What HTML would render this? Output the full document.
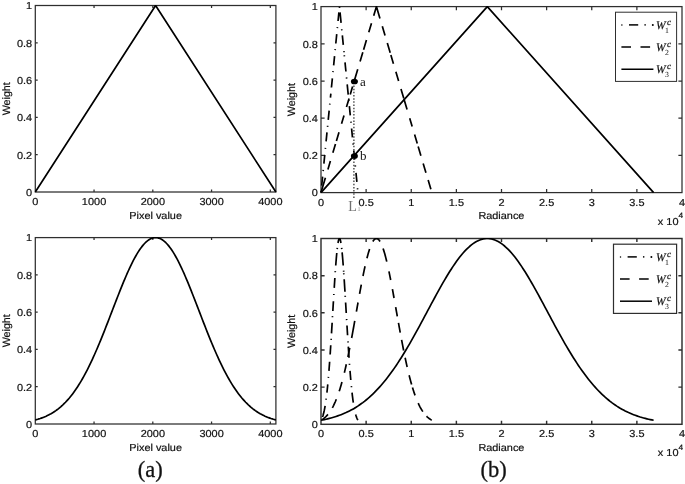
<!DOCTYPE html>
<html><head><meta charset="utf-8"><title>Weight functions</title>
<style>html,body{margin:0;padding:0;background:#fff}svg{display:block}</style></head>
<body>
<svg width="685" height="484" viewBox="0 0 685 484">
<style>
.t{font-family:"Liberation Sans",sans-serif;fill:#111;stroke:#111;stroke-width:.2px}
.s{font-family:"Liberation Serif",serif;fill:#111}
.c{fill:none;stroke:#000;stroke-width:1.7;stroke-linejoin:round}
</style>
<rect width="685" height="484" fill="#fff"/>
<filter id="soft" x="0" y="0" width="100%" height="100%" filterUnits="userSpaceOnUse" color-interpolation-filters="sRGB"><feGaussianBlur stdDeviation="0.35"/></filter>
<g filter="url(#soft)">
<rect width="685" height="484" fill="#fff"/>
<clipPath id="cTL"><rect x="34.3" y="5" width="242.6" height="187.7"/></clipPath>
<clipPath id="cTR"><rect x="320" y="6.1" width="363" height="187.2"/></clipPath>
<clipPath id="cBL"><rect x="34.3" y="237.1" width="242.6" height="187.6"/></clipPath>
<clipPath id="cBR"><rect x="320" y="238" width="363" height="187"/></clipPath>
<path d="M94.05 192v-2.41M94.05 5.5v2.41M152.81 192v-2.41M152.81 5.5v2.41M211.56 192v-2.41M211.56 5.5v2.41M270.32 192v-2.41M270.32 5.5v2.41M35.3 154.7h2.41M275.9 154.7h-2.41M35.3 117.4h2.41M275.9 117.4h-2.41M35.3 80.1h2.41M275.9 80.1h-2.41M35.3 42.8h2.41M275.9 42.8h-2.41" stroke="#2e2e2e" stroke-width="1.25" fill="none"/>
<rect x="35.3" y="5.5" width="240.6" height="186.5" fill="none" stroke="#2e2e2e" stroke-width="1.25"/>
<text transform="translate(35.3 205.1) skewX(.05) scale(1.075 1)" text-anchor="middle" class="t" font-size="10.2">0</text>
<text transform="translate(94.05 205.1) skewX(.05) scale(1.075 1)" text-anchor="middle" class="t" font-size="10.2">1000</text>
<text transform="translate(152.81 205.1) skewX(.05) scale(1.075 1)" text-anchor="middle" class="t" font-size="10.2">2000</text>
<text transform="translate(211.56 205.1) skewX(.05) scale(1.075 1)" text-anchor="middle" class="t" font-size="10.2">3000</text>
<text transform="translate(270.32 205.1) skewX(.05) scale(1.075 1)" text-anchor="middle" class="t" font-size="10.2">4000</text>
<text transform="translate(32.2 195.8) skewX(.05) scale(1.075 1)" text-anchor="end" class="t" font-size="10.2">0</text>
<text transform="translate(32.2 158.5) skewX(.05) scale(1.075 1)" text-anchor="end" class="t" font-size="10.2">0.2</text>
<text transform="translate(32.2 121.2) skewX(.05) scale(1.075 1)" text-anchor="end" class="t" font-size="10.2">0.4</text>
<text transform="translate(32.2 83.9) skewX(.05) scale(1.075 1)" text-anchor="end" class="t" font-size="10.2">0.6</text>
<text transform="translate(32.2 46.6) skewX(.05) scale(1.075 1)" text-anchor="end" class="t" font-size="10.2">0.8</text>
<text transform="translate(32.2 9.3) skewX(.05) scale(1.075 1)" text-anchor="end" class="t" font-size="10.2">1</text>
<text transform="translate(10 98.75) rotate(-90) skewX(.05)" text-anchor="middle" class="t" font-size="10.7">Weight</text>
<text transform="translate(155.6 218.6) skewX(.05) scale(1.07 1)" text-anchor="middle" class="t" font-size="10.2">Pixel value</text>
<path class="c" clip-path="url(#cTL)" d="M35.3 192L155.6 5.5L275.9 192"/>
<path d="M94.05 424v-2.41M94.05 237.6v2.41M152.81 424v-2.41M152.81 237.6v2.41M211.56 424v-2.41M211.56 237.6v2.41M270.32 424v-2.41M270.32 237.6v2.41M35.3 386.72h2.41M275.9 386.72h-2.41M35.3 349.44h2.41M275.9 349.44h-2.41M35.3 312.16h2.41M275.9 312.16h-2.41M35.3 274.88h2.41M275.9 274.88h-2.41" stroke="#2e2e2e" stroke-width="1.25" fill="none"/>
<rect x="35.3" y="237.6" width="240.6" height="186.4" fill="none" stroke="#2e2e2e" stroke-width="1.25"/>
<text transform="translate(35.3 437.1) skewX(.05) scale(1.075 1)" text-anchor="middle" class="t" font-size="10.2">0</text>
<text transform="translate(94.05 437.1) skewX(.05) scale(1.075 1)" text-anchor="middle" class="t" font-size="10.2">1000</text>
<text transform="translate(152.81 437.1) skewX(.05) scale(1.075 1)" text-anchor="middle" class="t" font-size="10.2">2000</text>
<text transform="translate(211.56 437.1) skewX(.05) scale(1.075 1)" text-anchor="middle" class="t" font-size="10.2">3000</text>
<text transform="translate(270.32 437.1) skewX(.05) scale(1.075 1)" text-anchor="middle" class="t" font-size="10.2">4000</text>
<text transform="translate(32.2 427.8) skewX(.05) scale(1.075 1)" text-anchor="end" class="t" font-size="10.2">0</text>
<text transform="translate(32.2 390.52) skewX(.05) scale(1.075 1)" text-anchor="end" class="t" font-size="10.2">0.2</text>
<text transform="translate(32.2 353.24) skewX(.05) scale(1.075 1)" text-anchor="end" class="t" font-size="10.2">0.4</text>
<text transform="translate(32.2 315.96) skewX(.05) scale(1.075 1)" text-anchor="end" class="t" font-size="10.2">0.6</text>
<text transform="translate(32.2 278.68) skewX(.05) scale(1.075 1)" text-anchor="end" class="t" font-size="10.2">0.8</text>
<text transform="translate(32.2 241.4) skewX(.05) scale(1.075 1)" text-anchor="end" class="t" font-size="10.2">1</text>
<text transform="translate(10 330.8) rotate(-90) skewX(.05)" text-anchor="middle" class="t" font-size="10.7">Weight</text>
<text transform="translate(155.6 450.6) skewX(.05) scale(1.07 1)" text-anchor="middle" class="t" font-size="10.2">Pixel value</text>
<path class="c" clip-path="url(#cBL)" d="M35.3 419.95L36.51 419.63L37.72 419.29L38.93 418.92L40.14 418.53L41.35 418.11L42.55 417.67L43.76 417.19L44.97 416.69L46.18 416.16L47.39 415.59L48.6 414.99L49.81 414.36L51.02 413.69L52.23 412.98L53.44 412.23L54.64 411.44L55.85 410.61L57.06 409.73L58.27 408.81L59.48 407.83L60.69 406.82L61.9 405.75L63.11 404.63L64.32 403.45L65.53 402.23L66.74 400.94L67.94 399.6L69.15 398.21L70.36 396.75L71.57 395.23L72.78 393.65L73.99 392.01L75.2 390.31L76.41 388.55L77.62 386.72L78.83 384.83L80.03 382.87L81.24 380.85L82.45 378.76L83.66 376.61L84.87 374.4L86.08 372.12L87.29 369.79L88.5 367.39L89.71 364.92L90.92 362.4L92.13 359.82L93.33 357.19L94.54 354.5L95.75 351.76L96.96 348.97L98.17 346.13L99.38 343.25L100.59 340.32L101.8 337.36L103.01 334.35L104.22 331.32L105.42 328.26L106.63 325.18L107.84 322.07L109.05 318.95L110.26 315.81L111.47 312.67L112.68 309.53L113.89 306.38L115.1 303.25L116.31 300.12L117.52 297.02L118.72 293.94L119.93 290.88L121.14 287.86L122.35 284.88L123.56 281.94L124.77 279.06L125.98 276.23L127.19 273.46L128.4 270.75L129.61 268.12L130.81 265.57L132.02 263.1L133.23 260.72L134.44 258.43L135.65 256.23L136.86 254.14L138.07 252.16L139.28 250.29L140.49 248.53L141.7 246.9L142.91 245.38L144.11 244L145.32 242.74L146.53 241.61L147.74 240.62L148.95 239.77L150.16 239.05L151.37 238.48L152.58 238.05L153.79 237.76L155 237.62L156.2 237.62L157.41 237.76L158.62 238.05L159.83 238.48L161.04 239.05L162.25 239.77L163.46 240.62L164.67 241.61L165.88 242.74L167.09 244L168.29 245.38L169.5 246.9L170.71 248.53L171.92 250.29L173.13 252.16L174.34 254.14L175.55 256.23L176.76 258.43L177.97 260.72L179.18 263.1L180.39 265.57L181.59 268.12L182.8 270.75L184.01 273.46L185.22 276.23L186.43 279.06L187.64 281.94L188.85 284.88L190.06 287.86L191.27 290.88L192.48 293.94L193.68 297.02L194.89 300.12L196.1 303.25L197.31 306.38L198.52 309.53L199.73 312.67L200.94 315.81L202.15 318.95L203.36 322.07L204.57 325.18L205.78 328.26L206.98 331.32L208.19 334.35L209.4 337.36L210.61 340.32L211.82 343.25L213.03 346.13L214.24 348.97L215.45 351.76L216.66 354.5L217.87 357.19L219.07 359.82L220.28 362.4L221.49 364.92L222.7 367.39L223.91 369.79L225.12 372.12L226.33 374.4L227.54 376.61L228.75 378.76L229.96 380.85L231.17 382.87L232.37 384.83L233.58 386.72L234.79 388.55L236 390.31L237.21 392.01L238.42 393.65L239.63 395.23L240.84 396.75L242.05 398.21L243.26 399.6L244.46 400.94L245.67 402.23L246.88 403.45L248.09 404.63L249.3 405.75L250.51 406.82L251.72 407.83L252.93 408.81L254.14 409.73L255.35 410.61L256.56 411.44L257.76 412.23L258.97 412.98L260.18 413.69L261.39 414.36L262.6 414.99L263.81 415.59L265.02 416.16L266.23 416.69L267.44 417.19L268.65 417.67L269.85 418.11L271.06 418.53L272.27 418.92L273.48 419.29L274.69 419.63L275.9 419.95"/>
<path d="M366.12 192.6v-3.61M366.12 6.6v3.61M411.25 192.6v-3.61M411.25 6.6v3.61M456.38 192.6v-3.61M456.38 6.6v3.61M501.5 192.6v-3.61M501.5 6.6v3.61M546.62 192.6v-3.61M546.62 6.6v3.61M591.75 192.6v-3.61M591.75 6.6v3.61M636.88 192.6v-3.61M636.88 6.6v3.61M321 155.4h3.61M682 155.4h-3.61M321 118.2h3.61M682 118.2h-3.61M321 81h3.61M682 81h-3.61M321 43.8h3.61M682 43.8h-3.61" stroke="#2e2e2e" stroke-width="1.25" fill="none"/>
<rect x="321" y="6.6" width="361" height="186" fill="none" stroke="#2e2e2e" stroke-width="1.25"/>
<text transform="translate(321 205.7) skewX(.05) scale(1.075 1)" text-anchor="middle" class="t" font-size="10.2">0</text>
<text transform="translate(366.12 205.7) skewX(.05) scale(1.075 1)" text-anchor="middle" class="t" font-size="10.2">0.5</text>
<text transform="translate(411.25 205.7) skewX(.05) scale(1.075 1)" text-anchor="middle" class="t" font-size="10.2">1</text>
<text transform="translate(456.38 205.7) skewX(.05) scale(1.075 1)" text-anchor="middle" class="t" font-size="10.2">1.5</text>
<text transform="translate(501.5 205.7) skewX(.05) scale(1.075 1)" text-anchor="middle" class="t" font-size="10.2">2</text>
<text transform="translate(546.62 205.7) skewX(.05) scale(1.075 1)" text-anchor="middle" class="t" font-size="10.2">2.5</text>
<text transform="translate(591.75 205.7) skewX(.05) scale(1.075 1)" text-anchor="middle" class="t" font-size="10.2">3</text>
<text transform="translate(636.88 205.7) skewX(.05) scale(1.075 1)" text-anchor="middle" class="t" font-size="10.2">3.5</text>
<text transform="translate(682 205.7) skewX(.05) scale(1.075 1)" text-anchor="middle" class="t" font-size="10.2">4</text>
<text transform="translate(317.9 196.4) skewX(.05) scale(1.075 1)" text-anchor="end" class="t" font-size="10.2">0</text>
<text transform="translate(317.9 159.2) skewX(.05) scale(1.075 1)" text-anchor="end" class="t" font-size="10.2">0.2</text>
<text transform="translate(317.9 122) skewX(.05) scale(1.075 1)" text-anchor="end" class="t" font-size="10.2">0.4</text>
<text transform="translate(317.9 84.8) skewX(.05) scale(1.075 1)" text-anchor="end" class="t" font-size="10.2">0.6</text>
<text transform="translate(317.9 47.6) skewX(.05) scale(1.075 1)" text-anchor="end" class="t" font-size="10.2">0.8</text>
<text transform="translate(317.9 10.4) skewX(.05) scale(1.075 1)" text-anchor="end" class="t" font-size="10.2">1</text>
<text transform="translate(295.2 99.6) rotate(-90) skewX(.05)" text-anchor="middle" class="t" font-size="10.7">Weight</text>
<text transform="translate(501.4 219.2) skewX(.05) scale(1.07 1)" text-anchor="middle" class="t" font-size="10.2">Radiance</text>
<path class="c" clip-path="url(#cTR)" d="M338.05 21L338.91 12.3M335.81 43.5L336.74 34.2M333.65 65.3L334.56 56.1M331.44 87.5L332.36 78.3M330.44 97.6L330.84 93.6M328.23 119.8L329.15 110.6M326.09 141.4L326.98 132.4M323.87 163.7L324.76 154.8M321.7 185.6L322.59 176.6M337.45 27.05L337.34 28.15M335.26 49.05L335.15 50.15M333.08 71.05L332.97 72.15M329.85 103.55L329.74 104.65M327.64 125.75L327.53 126.85M325.45 147.85L325.34 148.95M323.25 169.95L323.14 171.05M321.13 191.25L321.02 192.35M340.04 12.3L341.09 22.8M342.34 35.4L343.28 44.9M345.01 62.3L345.93 71.5M347.2 84.3L348.22 94.6M349.37 106.2L350.29 115.4M351.59 128.5L352.46 137.3M353.77 150.5L354.68 159.6M355.99 172.8L356.88 181.8M339.49 6.75L339.6 7.85M341.73 29.25L341.84 30.35M343.9 51.15L344.01 52.25M344.31 55.25L344.42 56.35M346.52 77.45L346.63 78.55M348.74 99.85L348.85 100.95M350.91 121.65L351.02 122.75M353.07 143.45L353.18 144.55M355.26 165.45L355.37 166.55M357.53 188.25L357.63 189.35"/>
<path class="c" clip-path="url(#cTR)" d="M373.69 15.8L376.53 6.3M368.78 32.3L371.49 23.2M363.59 49.7L366.45 40.1M360.07 61.5L362.82 52.3M354.62 79.8L357.75 69.3M350.24 94.5L352.59 86.6M346.48 107.1L349.08 98.4M341.54 123.7L344.01 115.4M336.41 140.9L339 132.2M332.86 152.8L335.48 144M327.91 169.4L330.39 161.1M321 192.6L325.41 177.8M376.35 6.3L379.95 18.4M382.31 26.3L385.05 35.5M387.31 43.1L390.21 52.8M390.86 55L393.45 63.7M395.87 71.8L398.61 81M400.97 88.9L403.83 98.5M403.95 98.9L407.07 109.4M409.7 118.2L412.17 126.5M414.59 134.6L417.27 143.6M418.16 146.6L420.9 155.8M423.17 163.4L425.94 172.7M428.15 180.1L430.89 189.3"/>
<path class="c" clip-path="url(#cTR)" d="M321 192.6L487.31 6.6L653.62 192.6"/>
<path d="M366.12 424.3v-3.61M366.12 238.5v3.61M411.25 424.3v-3.61M411.25 238.5v3.61M456.38 424.3v-3.61M456.38 238.5v3.61M501.5 424.3v-3.61M501.5 238.5v3.61M546.62 424.3v-3.61M546.62 238.5v3.61M591.75 424.3v-3.61M591.75 238.5v3.61M636.88 424.3v-3.61M636.88 238.5v3.61M321 387.14h3.61M682 387.14h-3.61M321 349.98h3.61M682 349.98h-3.61M321 312.82h3.61M682 312.82h-3.61M321 275.66h3.61M682 275.66h-3.61" stroke="#2e2e2e" stroke-width="1.45" fill="none"/>
<rect x="321" y="238.5" width="361" height="185.8" fill="none" stroke="#2e2e2e" stroke-width="1.45"/>
<text transform="translate(321 437.4) skewX(.05) scale(1.075 1)" text-anchor="middle" class="t" font-size="10.2">0</text>
<text transform="translate(366.12 437.4) skewX(.05) scale(1.075 1)" text-anchor="middle" class="t" font-size="10.2">0.5</text>
<text transform="translate(411.25 437.4) skewX(.05) scale(1.075 1)" text-anchor="middle" class="t" font-size="10.2">1</text>
<text transform="translate(456.38 437.4) skewX(.05) scale(1.075 1)" text-anchor="middle" class="t" font-size="10.2">1.5</text>
<text transform="translate(501.5 437.4) skewX(.05) scale(1.075 1)" text-anchor="middle" class="t" font-size="10.2">2</text>
<text transform="translate(546.62 437.4) skewX(.05) scale(1.075 1)" text-anchor="middle" class="t" font-size="10.2">2.5</text>
<text transform="translate(591.75 437.4) skewX(.05) scale(1.075 1)" text-anchor="middle" class="t" font-size="10.2">3</text>
<text transform="translate(636.88 437.4) skewX(.05) scale(1.075 1)" text-anchor="middle" class="t" font-size="10.2">3.5</text>
<text transform="translate(682 437.4) skewX(.05) scale(1.075 1)" text-anchor="middle" class="t" font-size="10.2">4</text>
<text transform="translate(317.9 428.1) skewX(.05) scale(1.075 1)" text-anchor="end" class="t" font-size="10.2">0</text>
<text transform="translate(317.9 390.94) skewX(.05) scale(1.075 1)" text-anchor="end" class="t" font-size="10.2">0.2</text>
<text transform="translate(317.9 353.78) skewX(.05) scale(1.075 1)" text-anchor="end" class="t" font-size="10.2">0.4</text>
<text transform="translate(317.9 316.62) skewX(.05) scale(1.075 1)" text-anchor="end" class="t" font-size="10.2">0.6</text>
<text transform="translate(317.9 279.46) skewX(.05) scale(1.075 1)" text-anchor="end" class="t" font-size="10.2">0.8</text>
<text transform="translate(317.9 242.3) skewX(.05) scale(1.075 1)" text-anchor="end" class="t" font-size="10.2">1</text>
<text transform="translate(295.2 331.4) rotate(-90) skewX(.05)" text-anchor="middle" class="t" font-size="10.7">Weight</text>
<text transform="translate(501.4 450.9) skewX(.05) scale(1.07 1)" text-anchor="middle" class="t" font-size="10.2">Radiance</text>
<path class="c" clip-path="url(#cBR)" d="M338 243L338.21 241.82L338.42 240.81L338.63 239.98L338.85 239.33L339.06 238.87L339.27 238.59L339.48 238.5L339.69 238.59L339.9 238.87L340.11 239.33L340.32 239.98L340.53 240.81L340.75 241.82L340.96 243M336.79 253L336.62 254.79L336.46 256.57L336.3 258.36L336.16 260.14L336.01 261.93L335.87 263.71L335.74 265.5M334.86 278L334.77 279.41L334.68 280.83L334.59 282.24L334.5 283.66L334.41 285.07L334.32 286.49L334.23 287.9M333.42 301.2L333.34 302.6L333.25 304L333.17 305.4L333.09 306.8L333 308.2L332.92 309.6L332.84 311M332.14 322.8L332.05 324.31L331.96 325.83L331.86 327.34L331.77 328.86L331.68 330.37L331.59 331.89L331.5 333.4M330.75 345.2L330.67 346.53L330.58 347.86L330.49 349.19L330.4 350.51L330.32 351.84L330.23 353.17L330.14 354.5M329.63 361.7L329.53 363.01L329.44 364.33L329.34 365.64L329.24 366.96L329.14 368.27L329.04 369.59L328.94 370.9M327.77 384.4L327.65 385.59L327.54 386.77L327.42 387.96L327.3 389.14L327.17 390.33L327.04 391.51L326.91 392.7M325.12 405.9L324.84 407.49L324.54 409.07L324.22 410.66L323.86 412.24L323.47 413.83L323.02 415.41L322.49 417M337.32 247.95L337.2 249.05M335.33 271.15L335.25 272.25M333.86 293.95L333.79 295.05M332.53 316.15L332.47 317.25M331.16 338.75L331.09 339.85M328.45 376.85L328.35 377.95M326.19 398.65L326.05 399.75M342.11 252.4L342.29 254.27L342.46 256.14L342.62 258.01L342.78 259.89L342.93 261.76L343.08 263.63L343.22 265.5M344.18 279.3L344.3 281.09L344.41 282.87L344.52 284.66L344.64 286.44L344.75 288.23L344.86 290.01L344.97 291.8M345.61 302.5L345.7 304L345.79 305.5L345.88 307L345.97 308.5L346.06 310L346.15 311.5L346.24 313M346.98 325.5L347.07 326.9L347.15 328.3L347.24 329.7L347.32 331.1L347.41 332.5L347.49 333.9L347.58 335.3M348.29 346.6L348.4 348.19L348.5 349.77L348.61 351.36L348.72 352.94L348.82 354.53L348.93 356.11L349.04 357.7M350.02 370.9L350.13 372.2L350.23 373.5L350.34 374.8L350.45 376.1L350.56 377.4L350.67 378.7L350.78 380M352.05 392.7L352.21 394.11L352.37 395.53L352.55 396.94L352.73 398.36L352.91 399.77L353.11 401.19L353.32 402.6M355.65 414.4L355.89 415.23L356.14 416.06L356.43 416.89L356.73 417.71L357.08 418.54L357.47 419.37L357.92 420.2M341.64 247.95L341.76 249.05M343.59 270.65L343.67 271.75M343.78 273.25L343.85 274.35M345.21 295.75L345.28 296.85M346.6 319.05L346.66 320.15M347.96 341.35L348.03 342.45M349.48 363.75L349.56 364.85M351.36 386.15L351.47 387.25M354.2 407.95L354.41 409.05"/>
<path class="c" clip-path="url(#cBR)" d="M372.82 241.5L373.34 240.71L373.85 240.04L374.37 239.48L374.89 239.05L375.4 238.75L375.92 238.56L376.44 238.5L376.95 238.56L377.47 238.75L377.98 239.05L378.5 239.48L379.02 240.04L379.53 240.71L380.05 241.5M369.57 249.1L369.14 250.41L368.74 251.73L368.35 253.04L367.98 254.36L367.62 255.67L367.27 256.99L366.93 258.3M365.05 266.2L364.75 267.6L364.44 269L364.14 270.4L363.85 271.8L363.56 273.2L363.27 274.6L362.99 276M361.31 284.6L361.06 285.91L360.81 287.23L360.57 288.54L360.32 289.86L360.08 291.17L359.84 292.49L359.6 293.8M358.03 302.5L357.79 303.81L357.56 305.13L357.32 306.44L357.09 307.76L356.86 309.07L356.62 310.39L356.39 311.7M354.75 320.9L354.31 323.34L353.87 325.79L353.43 328.23L352.99 330.67L352.54 333.11L352.09 335.56L351.63 338M349.75 347.8L349.49 349.11L349.23 350.43L348.97 351.74L348.7 353.06L348.43 354.37L348.16 355.69L347.89 357M346.32 364.3L346.05 365.51L345.77 366.73L345.5 367.94L345.22 369.16L344.93 370.37L344.64 371.59L344.35 372.8M341.98 382L341.61 383.33L341.23 384.66L340.84 385.99L340.45 387.31L340.04 388.64L339.63 389.97L339.2 391.3M336.32 399.3L335.82 400.51L335.31 401.73L334.77 402.94L334.21 404.16L333.63 405.37L333.01 406.59L332.36 407.8M327.93 414.4L327.29 415.14L326.6 415.89L325.87 416.63L325.06 417.37L324.19 418.11L323.21 418.86L322.12 419.6M383.1 248.5L383.71 250.37L384.29 252.24L384.83 254.11L385.34 255.99L385.83 257.86L386.3 259.73L386.76 261.6M388.94 271.4L389.2 272.63L389.45 273.86L389.7 275.09L389.95 276.31L390.19 277.54L390.44 278.77L390.68 280M392.43 289.2L392.66 290.46L392.89 291.71L393.12 292.97L393.35 294.23L393.58 295.49L393.81 296.74L394.04 298M395.66 307.1L395.9 308.41L396.13 309.73L396.37 311.04L396.6 312.36L396.83 313.67L397.07 314.99L397.3 316.3M398.46 322.8L398.72 324.21L398.97 325.63L399.23 327.04L399.48 328.46L399.74 329.87L400 331.29L400.26 332.7M401.6 339.9L401.89 341.41L402.17 342.93L402.47 344.44L402.76 345.96L403.06 347.47L403.35 348.99L403.65 350.5M405.13 357.7L405.41 359.03L405.69 360.36L405.98 361.69L406.27 363.01L406.56 364.34L406.86 365.67L407.16 367M409.14 375.3L409.47 376.63L409.82 377.96L410.16 379.29L410.52 380.61L410.88 381.94L411.25 383.27L411.63 384.6M412.45 387.4L412.8 388.54L413.16 389.69L413.52 390.83L413.89 391.97L414.28 393.11L414.67 394.26L415.08 395.4M418.22 403.2L418.77 404.4L419.36 405.6L419.97 406.8L420.62 408L421.31 409.2L422.05 410.4L422.84 411.6M426.57 416.2L427.16 416.77L427.78 417.34L428.44 417.91L429.16 418.49L429.94 419.06L430.8 419.63L431.75 420.2"/>
<path class="c" clip-path="url(#cBR)" d="M321 420.27L322.67 419.95L324.34 419.6L326.01 419.24L327.69 418.85L329.36 418.43L331.03 417.99L332.7 417.52L334.37 417.02L336.04 416.48L337.71 415.92L339.39 415.32L341.06 414.69L342.73 414.02L344.4 413.31L346.07 412.57L347.74 411.78L349.41 410.95L351.09 410.07L352.76 409.15L354.43 408.19L356.1 407.17L357.77 406.11L359.44 404.99L361.11 403.82L362.79 402.6L364.46 401.32L366.13 399.98L367.8 398.59L369.47 397.14L371.14 395.62L372.81 394.05L374.49 392.42L376.16 390.72L377.83 388.96L379.5 387.14L381.17 385.25L382.84 383.3L384.51 381.29L386.19 379.21L387.86 377.07L389.53 374.86L391.2 372.59L392.87 370.26L394.54 367.87L396.21 365.41L397.89 362.9L399.56 360.33L401.23 357.71L402.9 355.03L404.57 352.29L406.24 349.51L407.91 346.68L409.59 343.81L411.26 340.89L412.93 337.93L414.6 334.94L416.27 331.92L417.94 328.87L419.61 325.79L421.29 322.7L422.96 319.58L424.63 316.46L426.3 313.33L427.97 310.19L429.64 307.06L431.31 303.94L432.99 300.82L434.66 297.73L436.33 294.66L438 291.61L439.67 288.6L441.34 285.63L443.02 282.7L444.69 279.82L446.36 277L448.03 274.24L449.7 271.55L451.37 268.92L453.04 266.38L454.72 263.92L456.39 261.54L458.06 259.26L459.73 257.07L461.4 254.99L463.07 253.01L464.74 251.15L466.42 249.4L468.09 247.77L469.76 246.26L471.43 244.88L473.1 243.62L474.77 242.5L476.44 241.51L478.12 240.66L479.79 239.95L481.46 239.38L483.13 238.95L484.8 238.66L486.47 238.52L488.14 238.52L489.82 238.66L491.49 238.95L493.16 239.38L494.83 239.95L496.5 240.66L498.17 241.51L499.84 242.5L501.52 243.62L503.19 244.88L504.86 246.26L506.53 247.77L508.2 249.4L509.87 251.15L511.54 253.01L513.22 254.99L514.89 257.07L516.56 259.26L518.23 261.54L519.9 263.92L521.57 266.38L523.24 268.92L524.92 271.55L526.59 274.24L528.26 277L529.93 279.82L531.6 282.7L533.27 285.63L534.94 288.6L536.62 291.61L538.29 294.66L539.96 297.73L541.63 300.82L543.3 303.94L544.97 307.06L546.64 310.19L548.32 313.33L549.99 316.46L551.66 319.58L553.33 322.7L555 325.79L556.67 328.87L558.34 331.92L560.02 334.94L561.69 337.93L563.36 340.89L565.03 343.81L566.7 346.68L568.37 349.51L570.04 352.29L571.72 355.03L573.39 357.71L575.06 360.33L576.73 362.9L578.4 365.41L580.07 367.87L581.74 370.26L583.42 372.59L585.09 374.86L586.76 377.07L588.43 379.21L590.1 381.29L591.77 383.3L593.44 385.25L595.12 387.14L596.79 388.96L598.46 390.72L600.13 392.42L601.8 394.05L603.47 395.62L605.14 397.14L606.82 398.59L608.49 399.98L610.16 401.32L611.83 402.6L613.5 403.82L615.17 404.99L616.84 406.11L618.52 407.17L620.19 408.19L621.86 409.15L623.53 410.07L625.2 410.95L626.87 411.78L628.54 412.57L630.22 413.31L631.89 414.02L633.56 414.69L635.23 415.32L636.9 415.92L638.57 416.48L640.24 417.02L641.92 417.52L643.59 417.99L645.26 418.43L646.93 418.85L648.6 419.24L650.27 419.6L651.94 419.95L653.62 420.27"/>
<text transform="translate(657.8 224.6) skewX(.05) scale(1.075 1)" class="t" font-size="10.2">x 10<tspan dy="-6.6" font-size="7.8">4</tspan></text>
<text transform="translate(657.8 456.3) skewX(.05) scale(1.075 1)" class="t" font-size="10.2">x 10<tspan dy="-6.6" font-size="7.8">4</tspan></text>
<path d="M353.9 79.17V198.3" stroke="#3a3a3a" stroke-width="1.3" stroke-dasharray="1.5 1.67" fill="none"/>
<ellipse cx="354.4" cy="81.5" rx="3.5" ry="2.85" fill="#000"/>
<ellipse cx="354.4" cy="156" rx="3.5" ry="2.85" fill="#000"/>
<text x="359.9" y="85.6" class="s" font-size="13">a</text>
<text x="359.9" y="160.1" class="s" font-size="13">b</text>
<text x="348.2" y="210.8" class="s" font-size="14" style="fill:#707070">L<tspan dx="0.6" font-size="7" style="fill:#999">1</tspan></text>
<rect x="615.5" y="12.2" width="61.1" height="69.2" fill="#fff" stroke="#2e2e2e" stroke-width="1.0"/>
<path class="c" style="stroke-width:1.5" d="M629 24.9h9.2"/>
<circle cx="621.9" cy="24.9" r="0.75" fill="#000"/>
<circle cx="645.1" cy="24.9" r="0.8" fill="#000"/>
<circle cx="652.8" cy="24.9" r="1.0" fill="#000"/>
<path class="c" style="stroke-width:1.5" d="M621.4 47h9.6m9.5 0h9.6"/>
<path class="c" style="stroke-width:1.5" d="M621.4 69.2h32"/>
<text transform="translate(656 28.7) skewX(.05)" class="s" font-size="11.5" font-style="italic" stroke="#1c1c1c" stroke-width=".2">W<tspan dx="1.4" dy="-3.8" font-size="9">c</tspan></text>
<text transform="translate(664.9 32.5) skewX(.05)" class="s" font-size="7.8">1</text>
<text transform="translate(656 50.8) skewX(.05)" class="s" font-size="11.5" font-style="italic" stroke="#1c1c1c" stroke-width=".2">W<tspan dx="1.4" dy="-3.8" font-size="9">c</tspan></text>
<text transform="translate(664.9 54.6) skewX(.05)" class="s" font-size="7.8">2</text>
<text transform="translate(656 73) skewX(.05)" class="s" font-size="11.5" font-style="italic" stroke="#1c1c1c" stroke-width=".2">W<tspan dx="1.4" dy="-3.8" font-size="9">c</tspan></text>
<text transform="translate(664.9 76.8) skewX(.05)" class="s" font-size="7.8">3</text>
<rect x="613.5" y="244.2" width="63.1" height="69.2" fill="#fff" stroke="#2e2e2e" stroke-width="1.2"/>
<path class="c" style="stroke-width:1.5" d="M627.6 256.9h9.2"/>
<circle cx="620.5" cy="256.9" r="0.75" fill="#000"/>
<circle cx="643.7" cy="256.9" r="0.8" fill="#000"/>
<circle cx="651.4" cy="256.9" r="1.0" fill="#000"/>
<path class="c" style="stroke-width:1.5" d="M620 279h9.6m9.5 0h9.6"/>
<path class="c" style="stroke-width:1.5" d="M620 301.2h32"/>
<text transform="translate(656 260.7) skewX(.05)" class="s" font-size="11.5" font-style="italic" stroke="#1c1c1c" stroke-width=".2">W<tspan dx="1.4" dy="-3.8" font-size="9">c</tspan></text>
<text transform="translate(664.9 264.5) skewX(.05)" class="s" font-size="7.8">1</text>
<text transform="translate(656 282.8) skewX(.05)" class="s" font-size="11.5" font-style="italic" stroke="#1c1c1c" stroke-width=".2">W<tspan dx="1.4" dy="-3.8" font-size="9">c</tspan></text>
<text transform="translate(664.9 286.6) skewX(.05)" class="s" font-size="7.8">2</text>
<text transform="translate(656 305) skewX(.05)" class="s" font-size="11.5" font-style="italic" stroke="#1c1c1c" stroke-width=".2">W<tspan dx="1.4" dy="-3.8" font-size="9">c</tspan></text>
<text transform="translate(664.9 308.8) skewX(.05)" class="s" font-size="7.8">3</text>
<text x="150.3" y="476.5" text-anchor="middle" class="s" font-size="22.5" stroke="#1c1c1c" stroke-width=".3">(a)</text>
<text x="493.6" y="476.8" text-anchor="middle" class="s" font-size="22.5" stroke="#1c1c1c" stroke-width=".3">(b)</text>
</g>
</svg>
</body></html>
